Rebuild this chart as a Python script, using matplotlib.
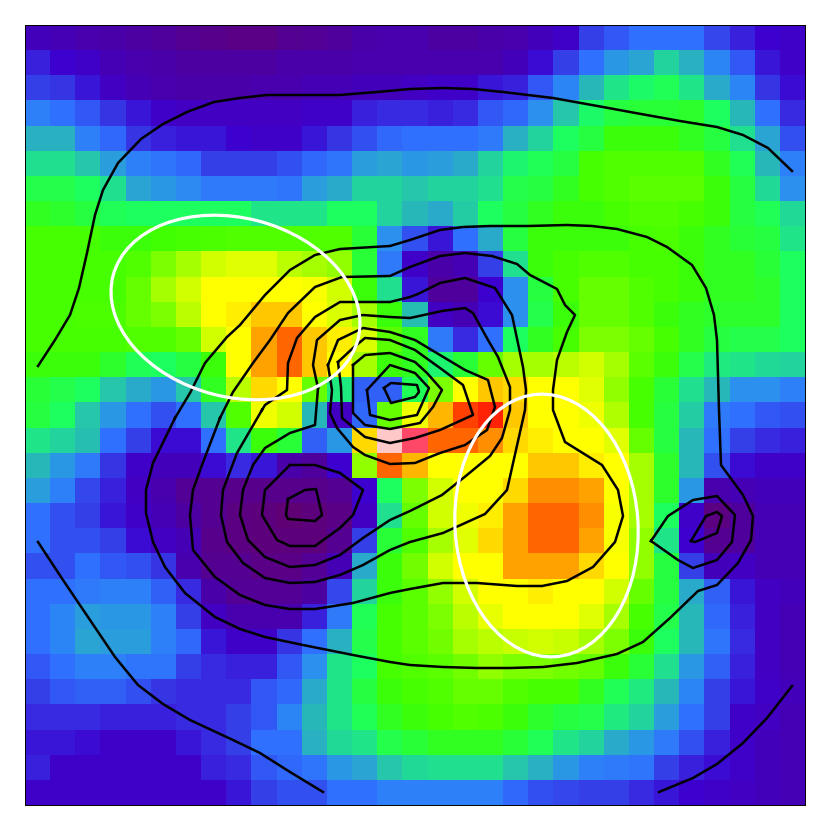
"""Heat map of a gridded field with contour lines and two white ellipses."""

import matplotlib

matplotlib.use("Agg")
import matplotlib.pyplot as plt
from matplotlib.colors import LinearSegmentedColormap
from matplotlib.patches import Ellipse
import numpy as np

# cell values, top row first, 31 x 31
cell_values = [
    [13, 12, 11, 10, 9, 8, 6, 5, 4, 4, 6, 7, 8, 10, 11, 11, 9, 9, 10, 11, 13, 15, 22, 25, 28, 28, 28, 23, 19, 16, 15],
    [19, 16, 15, 12, 11, 10, 9, 9, 9, 9, 10, 10, 10, 11, 11, 11, 11, 11, 11, 13, 17, 22, 28, 35, 37, 44, 39, 32, 25, 18, 15],
    [22, 21, 18, 14, 12, 11, 10, 10, 10, 11, 11, 12, 12, 13, 13, 14, 15, 15, 18, 19, 25, 32, 40, 47, 51, 53, 47, 38, 32, 21, 17],
    [31, 28, 25, 21, 18, 15, 14, 14, 14, 14, 14, 15, 15, 19, 20, 20, 19, 20, 25, 27, 34, 42, 51, 55, 56, 56, 57, 52, 40, 28, 20],
    [39, 39, 31, 27, 21, 19, 18, 18, 16, 15, 15, 18, 21, 24, 27, 28, 28, 28, 30, 39, 44, 52, 55, 60, 60, 60, 58, 55, 46, 37, 24],
    [46, 46, 42, 36, 31, 29, 27, 22, 22, 22, 24, 27, 29, 36, 37, 35, 36, 38, 44, 50, 53, 55, 62, 64, 64, 64, 64, 58, 53, 40, 31],
    [54, 54, 52, 46, 37, 35, 33, 30, 30, 30, 29, 36, 38, 44, 44, 42, 44, 44, 46, 54, 55, 58, 62, 64, 65, 65, 65, 60, 55, 45, 34],
    [58, 57, 55, 53, 52, 52, 52, 52, 52, 47, 47, 47, 52, 52, 44, 40, 38, 43, 52, 55, 58, 60, 60, 62, 64, 64, 62, 60, 55, 53, 45],
    [62, 62, 62, 60, 60, 61, 62, 63, 64, 64, 64, 64, 64, 56, 34, 24, 18, 28, 38, 55, 60, 60, 60, 60, 62, 63, 60, 58, 56, 55, 47],
    [62, 62, 62, 62, 64, 68, 72, 76, 78, 78, 74, 72, 70, 56, 30, 15, 10, 12, 22, 46, 60, 62, 64, 64, 62, 62, 60, 58, 58, 56, 52],
    [62, 62, 62, 62, 66, 72, 76, 82, 82, 82, 82, 81, 76, 60, 46, 18, 8, 8, 16, 34, 55, 62, 66, 66, 64, 62, 60, 58, 58, 57, 52],
    [62, 62, 63, 63, 66, 68, 74, 82, 83, 85, 85, 82, 77, 72, 60, 41, 14, 12, 17, 34, 54, 60, 66, 66, 64, 60, 58, 57, 57, 57, 52],
    [62, 62, 62, 62, 64, 64, 66, 76, 82, 87, 90, 85, 83, 77, 65, 58, 30, 20, 28, 52, 58, 62, 68, 68, 66, 62, 58, 55, 54, 54, 52],
    [60, 60, 60, 57, 53, 52, 55, 60, 82, 87, 90, 85, 82, 72, 60, 58, 50, 56, 66, 72, 72, 74, 76, 72, 65, 60, 54, 48, 47, 45, 44],
    [56, 54, 52, 42, 38, 35, 42, 58, 74, 84, 82, 66, 48, 26, 26, 53, 68, 82, 85, 84, 82, 82, 78, 70, 62, 56, 46, 40, 34, 34, 31],
    [55, 52, 42, 35, 28, 24, 28, 42, 64, 80, 76, 40, 14, 27, 66, 80, 86, 92, 94, 85, 82, 82, 80, 73, 62, 55, 43, 30, 28, 25, 24],
    [47, 44, 41, 28, 22, 17, 17, 28, 47, 60, 56, 26, 35, 84, 100, 97, 90, 90, 88, 84, 83, 82, 82, 78, 66, 55, 40, 28, 22, 20, 19],
    [40, 35, 30, 21, 15, 13, 13, 17, 20, 18, 10, 8, 16, 70, 90, 86, 82, 82, 82, 82, 85, 85, 83, 82, 72, 57, 40, 24, 17, 15, 15],
    [36, 31, 23, 19, 14, 11, 7, 6, 5, 5, 5, 5, 6, 16, 52, 68, 76, 82, 82, 84, 88, 88, 87, 82, 72, 57, 35, 11, 12, 13, 13],
    [28, 24, 22, 18, 15, 12, 9, 6, 3, 2, 1, 2, 4, 14, 46, 66, 76, 80, 83, 87, 90, 90, 88, 81, 72, 52, 15, 3, 8, 12, 12],
    [28, 24, 24, 22, 17, 14, 12, 5, 3, 2, 2, 2, 6, 22, 56, 64, 72, 78, 84, 87, 90, 90, 87, 81, 70, 47, 16, 6, 8, 12, 12],
    [24, 24, 28, 25, 24, 21, 11, 6, 6, 4, 4, 7, 12, 38, 60, 67, 76, 82, 82, 87, 87, 87, 84, 82, 70, 55, 22, 13, 14, 12, 12],
    [28, 28, 30, 31, 31, 26, 20, 10, 7, 7, 7, 9, 23, 44, 60, 65, 70, 76, 82, 82, 83, 82, 82, 76, 66, 55, 38, 26, 18, 14, 13],
    [28, 32, 36, 35, 35, 31, 22, 14, 11, 11, 11, 19, 30, 53, 62, 65, 68, 74, 79, 82, 82, 82, 78, 72, 62, 54, 40, 27, 19, 14, 12],
    [28, 32, 37, 36, 36, 31, 27, 18, 15, 15, 21, 28, 39, 54, 62, 65, 67, 72, 74, 75, 76, 75, 72, 68, 60, 52, 40, 29, 20, 14, 12],
    [25, 28, 31, 31, 29, 29, 22, 20, 19, 19, 25, 34, 47, 52, 62, 64, 65, 67, 70, 68, 68, 67, 66, 60, 56, 46, 35, 26, 19, 14, 12],
    [22, 25, 26, 26, 24, 21, 20, 20, 20, 25, 27, 38, 47, 55, 60, 62, 64, 66, 66, 64, 62, 62, 58, 53, 48, 40, 32, 22, 18, 15, 13],
    [20, 20, 20, 19, 19, 19, 20, 20, 22, 25, 32, 40, 47, 53, 58, 60, 62, 64, 63, 60, 57, 55, 54, 48, 44, 36, 28, 22, 15, 14, 12],
    [18, 18, 17, 15, 15, 15, 18, 20, 22, 28, 28, 39, 45, 47, 54, 56, 58, 58, 58, 56, 53, 47, 44, 38, 35, 30, 24, 19, 15, 13, 12],
    [19, 15, 15, 15, 15, 15, 15, 19, 20, 25, 27, 29, 35, 37, 42, 45, 46, 46, 46, 42, 39, 35, 31, 30, 29, 22, 19, 17, 15, 13, 12],
    [15, 15, 15, 15, 15, 15, 15, 15, 18, 22, 24, 24, 28, 28, 31, 31, 31, 31, 31, 27, 24, 23, 22, 22, 20, 18, 16, 15, 14, 13, 12],
]

# contour lines, (x, y) in the axes' data range
line_upper = [(38, 366), (55, 340), (70, 315), (79, 288), (87, 253), (95, 215), (103, 190), (118, 163), (141, 139),
              (163, 124), (187, 112), (214, 102), (240, 98), (267, 95), (303, 95), (340, 95), (377, 92), (410, 89),
              (443, 88), (473, 89), (503, 92), (553, 98), (603, 107), (630, 112), (680, 121), (717, 127), (743, 135),
              (768, 148), (792, 171)]
line_lower_left = [(38, 542), (63, 580), (90, 620), (115, 657), (138, 685), (163, 704), (190, 720), (233, 740),
                   (260, 753), (290, 772), (323, 792)]
line_lower_right = [(659, 792), (693, 778), (717, 764), (743, 743), (767, 718), (792, 686)]
loop_outer = [(175, 418), (190, 393), (205, 363), (227, 337), (240, 325), (265, 295), (290, 270), (315, 255),
              (340, 249), (390, 246), (410, 240), (440, 230), (463, 227), (490, 226), (528, 226), (567, 225),
              (592, 226), (617, 229), (647, 237), (667, 247), (692, 265), (706, 288), (714, 315), (717, 340),
              (719, 410), (721, 465), (743, 495), (753, 516), (751, 540), (738, 563), (717, 585), (698, 591),
              (670, 618), (643, 642), (617, 654), (577, 663), (543, 667), (510, 668), (477, 668), (443, 667),
              (410, 665), (390, 662), (353, 655), (303, 645), (265, 637), (240, 629), (215, 617), (185, 593),
              (165, 567), (153, 542), (146, 513), (146, 490), (153, 463), (175, 418)]
loop_second = [(220, 418), (233, 392), (253, 363), (270, 340), (288, 313), (315, 287), (342, 277), (390, 276),
               (410, 267), (440, 256), (465, 253), (492, 256), (517, 264), (530, 275), (557, 289), (565, 305),
               (575, 315), (567, 332), (557, 360), (553, 390), (553, 410), (565, 442), (602, 465), (618, 490),
               (623, 516), (615, 542), (593, 567), (567, 581), (542, 586), (517, 586), (477, 583), (443, 583),
               (410, 589), (390, 593), (353, 603), (315, 609), (290, 609), (265, 605), (240, 595), (215, 577),
               (193, 550), (190, 515), (193, 490), (202, 465), (220, 418)]
loop_third = [(262, 410), (265, 405), (287, 390), (288, 363), (297, 338), (315, 317), (340, 302), (390, 302),
              (410, 297), (418, 294), (440, 283), (465, 278), (495, 288), (512, 315), (523, 367), (526, 390),
              (525, 410), (507, 490), (485, 514), (443, 533), (410, 542), (390, 550), (363, 565), (340, 575),
              (315, 582), (290, 583), (265, 578), (243, 563), (227, 542), (221, 515), (223, 490), (237, 453),
              (262, 410)]
loop_fourth = [(318, 388), (313, 365), (317, 340), (340, 320), (363, 315), (390, 317), (410, 318), (433, 313),
               (442, 311), (465, 308), (473, 313), (488, 340), (498, 357), (510, 387), (510, 410), (502, 438),
               (490, 456), (467, 475), (442, 495), (410, 511), (390, 520), (363, 538), (340, 555), (315, 565),
               (290, 567), (265, 557), (248, 540), (240, 515), (243, 490), (253, 465), (265, 448), (290, 433),
               (315, 425), (318, 388)]
ring_low_outer = [(290, 465), (315, 465), (340, 473), (363, 490), (353, 515), (340, 528), (315, 546), (290, 546),
                  (277, 540), (262, 515), (265, 490), (290, 465)]
ring_low_inner = [(288, 499), (305, 490), (316, 489), (322, 515), (315, 521), (288, 519), (286, 515), (288, 499)]
ring_mid_1 = [(328, 365), (338, 340), (363, 328), (390, 332), (415, 340), (440, 355), (465, 370), (488, 380),
              (495, 407), (487, 430), (465, 445), (440, 453), (415, 463), (390, 464), (365, 455), (353, 447),
              (337, 428), (330, 413), (332, 390), (328, 365)]
ring_mid_2 = [(338, 362), (353, 348), (365, 338), (390, 340), (415, 350), (440, 368), (463, 385), (473, 415),
              (440, 430), (415, 438), (390, 443), (365, 437), (342, 418), (341, 387), (338, 362)]
ring_mid_3 = [(353, 365), (365, 355), (390, 353), (415, 362), (427, 373), (442, 390), (433, 407), (420, 423),
              (390, 429), (365, 425), (353, 413), (353, 365)]
ring_mid_4 = [(367, 390), (390, 365), (415, 373), (429, 388), (417, 415), (390, 420), (370, 415), (367, 390)]
ring_mid_5 = [(384, 388), (391, 383), (417, 385), (419, 392), (415, 397), (391, 403), (384, 388)]
ring_right_outer = [(651, 541), (668, 516), (693, 500), (717, 496), (735, 515), (732, 542), (717, 560), (693, 568),
                    (678, 560), (651, 541)]
ring_right_inner = [(691, 541), (706, 516), (717, 512), (722, 516), (717, 533), (695, 542), (691, 541)]

contour_lines = [line_upper, line_lower_left, line_lower_right, loop_outer, loop_second, loop_third, loop_fourth,
                 ring_low_outer, ring_low_inner, ring_mid_1, ring_mid_2, ring_mid_3, ring_mid_4, ring_mid_5,
                 ring_right_outer, ring_right_inner]

# white ellipses: centre, width, height, angle
ellipses = [((235.5, 307.5), 253, 179, 14.6), ((546.5, 525.5), 183, 263, -3.8)]

COLOR_STOPS = [
    (0, "#620070"), (10, "#4a00a8"), (16, "#3c00d0"), (22, "#3440e8"), (28, "#2f70ff"), (34, "#2b90ee"),
    (40, "#28b8b8"), (46, "#20e090"), (52, "#1cff60"), (58, "#30ff20"), (61, "#40ff00"), (64, "#50ff00"),
    (70, "#90ff00"), (76, "#d0ff00"), (82, "#ffff00"), (86, "#ffb800"), (90, "#ff6600"), (94, "#ff2000"),
    (97, "#ff4466"), (100, "#ffc8c8"),
]
cmap = LinearSegmentedColormap.from_list("field", [(v / 100, c) for v, c in COLOR_STOPS], N=512)

fig = plt.figure(figsize=(8.3, 8.3), dpi=100)
ax = fig.add_axes([25 / 830, 25 / 830, 780 / 830, 780 / 830])

edges = np.linspace(25, 805, 32)
ax.pcolormesh(edges, edges, np.array(cell_values), cmap=cmap, vmin=0, vmax=100, shading="flat")

for points in contour_lines:
    xs, ys = zip(*points)
    ax.plot(xs, ys, color="black", linewidth=1.8, solid_joinstyle="round")

for center, width, height, angle in ellipses:
    ax.add_patch(Ellipse(center, width, height, angle=angle, facecolor="none", edgecolor="white", linewidth=2.3, zorder=5))

ax.set_xlim(25, 805)
ax.set_ylim(805, 25)
ax.set_xticks([])
ax.set_yticks([])
for spine in ax.spines.values():
    spine.set_linewidth(0.7)

fig.savefig("out.png", dpi=100)
